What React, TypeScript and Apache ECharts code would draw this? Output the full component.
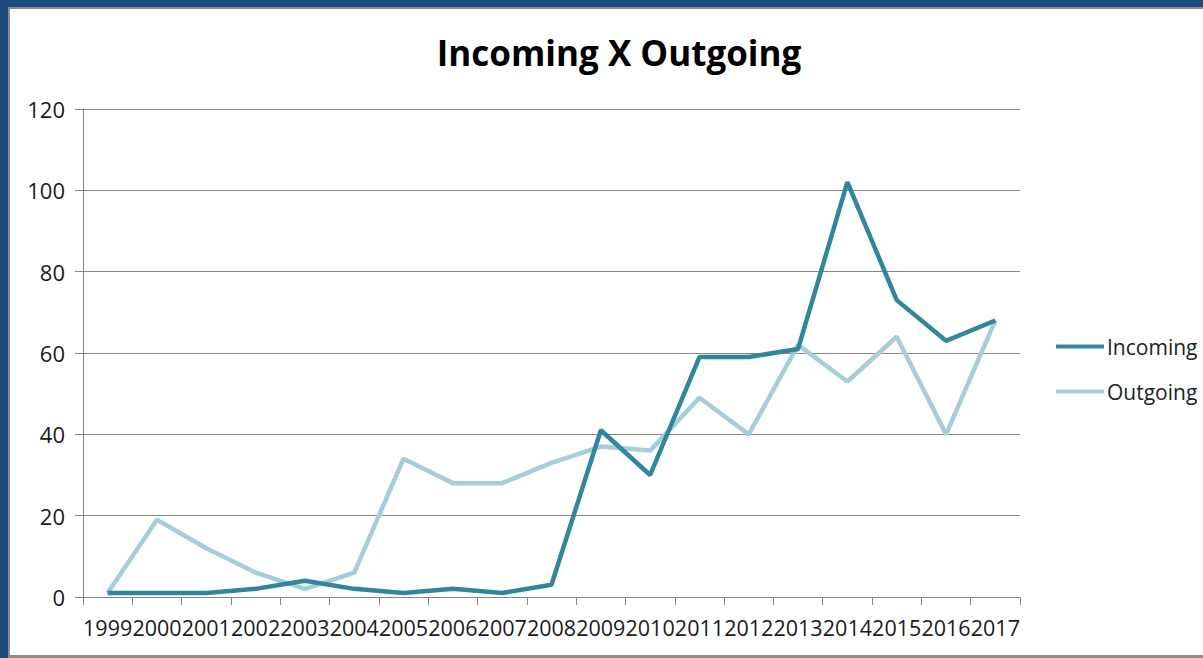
import React, { useEffect, useRef } from "react";
import * as echarts from "echarts";

const years = ["1999","2000","2001","2002","2003","2004","2005","2006","2007","2008","2009","2010","2011","2012","2013","2014","2015","2016","2017"];
const incoming = [1, 1, 1, 2, 4, 2, 1, 2, 1, 3, 41, 30, 59, 59, 61, 102, 73, 63, 68];
const outgoing = [1, 19, 12, 6, 2, 6, 34, 28, 28, 33, 37, 36, 49, 40, 62, 53, 64, 40, 68];
const yTicks = { min: 0, max: 120, interval: 20 };

const FONT = "'Open Sans', 'Noto Sans', sans-serif";

export default function App() {
  const ref = useRef<HTMLDivElement>(null);
  useEffect(() => {
    if (!ref.current) return;
    const chart = echarts.init(ref.current, undefined, { renderer: "svg" });
    chart.setOption({
      animation: false,
      backgroundColor: "transparent",
      title: {
        text: "Incoming X Outgoing",
        left: 614,
        top: 30,
        textAlign: "center",
        textStyle: { fontFamily: FONT, fontSize: 35, fontWeight: "bold", color: "#000" },
      },
      legend: {
        orient: "vertical",
        left: 1056,
        top: 336,
        padding: 0,
        itemWidth: 48,
        itemHeight: 4,
        itemGap: 24,
        icon: "rect",
        textStyle: { fontFamily: FONT, fontSize: 21, color: "#222", padding: [0, 0, 0, -2] },
        data: ["Incoming", "Outgoing"],
      },
      grid: { left: 83, right: 183, top: 109, bottom: 61, containLabel: false },
      xAxis: {
        type: "category",
        data: years,
        boundaryGap: true,
        axisLine: { lineStyle: { color: "#868686", width: 1 } },
        axisTick: { show: true, length: 8, lineStyle: { color: "#868686" }, alignWithLabel: false },
        axisLabel: { interval: 0, margin: 19, fontFamily: FONT, fontSize: 21.5, color: "#1a1a1a" },
        splitLine: { show: false },
      },
      yAxis: {
        type: "value",
        min: yTicks.min,
        max: yTicks.max,
        interval: yTicks.interval,
        axisLine: { show: true, lineStyle: { color: "#868686", width: 1 } },
        axisTick: { show: true, length: 8, lineStyle: { color: "#868686" } },
        axisLabel: { margin: 18, fontFamily: FONT, fontSize: 22, color: "#1a1a1a" },
        splitLine: { show: true, lineStyle: { color: "#868686", width: 1 } },
      },
      series: [
        {
          name: "Incoming",
          type: "line",
          data: incoming,
          symbol: "none",
          color: "#31859C",
          lineStyle: { width: 4.5, color: "#31859C" },
          z: 3,
        },
        {
          name: "Outgoing",
          type: "line",
          data: outgoing,
          symbol: "none",
          color: "#A5CDDA",
          lineStyle: { width: 4.5, color: "#A5CDDA" },
          z: 2,
        },
      ],
    });
    return () => chart.dispose();
  }, []);

  return (
    <div style={{ position: "fixed", left: 0, top: 0, width: 1203, height: 658, background: "#1F497D", overflow: "hidden" }}>
      <div
        style={{
          position: "absolute",
          left: 8,
          top: 7,
          width: 1210,
          height: 651,
          background: "#fff",
          borderLeft: "2px solid #8C8C8C",
          borderTop: "2px solid #8C8C8C",
          borderBottom: "3px solid #8C8C8C",
          boxSizing: "border-box",
        }}
      />
      <div ref={ref} style={{ position: "absolute", left: 0, top: 0, width: 1203, height: 658 }} />
    </div>
  );
}
